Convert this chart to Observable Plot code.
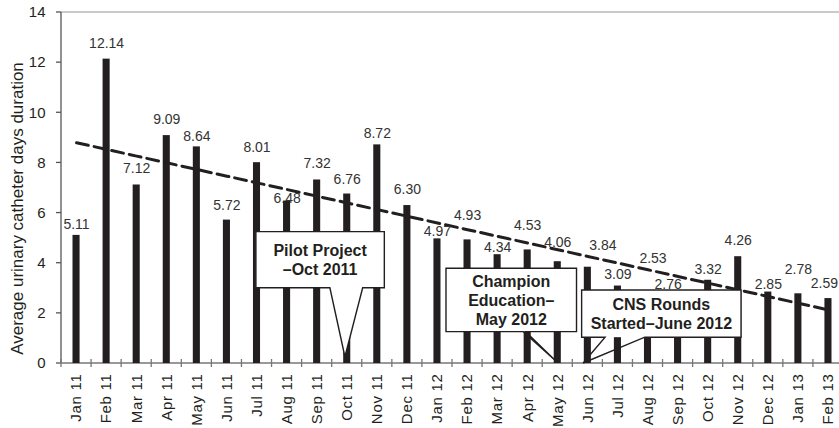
<!DOCTYPE html>
<html>
<head>
<meta charset="utf-8">
<script src="https://cdn.jsdelivr.net/npm/d3@7"></script>
<script src="https://cdn.jsdelivr.net/npm/@observablehq/plot@0.6"></script>
<style>
html, body { margin: 0; padding: 0; background: #fff; overflow: hidden; }
</style>
</head>
<body>
<div id="chart"></div>
<script>
// ---- data ----
const months = ["Jan 11","Feb 11","Mar 11","Apr 11","May 11","Jun 11","Jul 11","Aug 11","Sep 11","Oct 11","Nov 11","Dec 11",
                "Jan 12","Feb 12","Mar 12","Apr 12","May 12","Jun 12","Jul 12","Aug 12","Sep 12","Oct 12","Nov 12","Dec 12",
                "Jan 13","Feb 13"];
const durations = [5.11,12.14,7.12,9.09,8.64,5.72,8.01,6.48,7.32,6.76,8.72,6.30,
                   4.97,4.93,4.34,4.53,4.06,3.84,3.09,2.53,2.76,3.32,4.26,2.85,
                   2.78,2.59];
const yTicks = [0,2,4,6,8,10,12,14];
const yTitle = "Average urinary catheter days duration";
const calloutTexts = [["Pilot Project","\u2013Oct 2011"],["Champion","Education\u2013","May 2012"],["CNS Rounds","Started\u2013June 2012"]];

// ---- layout (label nudges in px, callouts in band-index / value units) ----
const labelDx = [0,0,0,0,0,0,0,0,0,0,0,0, 0,0,0,0,0,15,0,5,-10,0,0,0, 0,-4];
const labelDy = [-11,-15.5,-16,-16.5,-10,-14.5,-15.5,-3,-16,-15,-11,-16,
                 -7,-24,-7.5,-24,-19.5,-21.5,-12,-42,-10,-10.5,-16,-8,
                 -24,-15];
const calloutLayout = [
  {box:[6.48,10.75,5.24,3.0],  base:[8.94,10.03],  tip:[9.44,0.25],  tailFill:"white"},
  {box:[12.80,17.14,3.78,1.25], base:[15.37,15.45], tip:[16.48,0.05], tailFill:"none"},
  {box:[17.31,22.61,2.91,1.03], base:[18.09,19.41], tip:[17.36,0.0],  tailFill:"none"}
];

const ink = "#231f20";
const bars = months.map((m,i)=>({month:m, value:durations[i]}));

// least-squares trend line
const mx = d3.mean(durations, (d,i)=>i);
const my = d3.mean(durations);
let sxy = 0, sxx = 0;
durations.forEach((d,i)=>{ sxy += (i-mx)*(d-my); sxx += (i-mx)*(i-mx); });
const slope = sxy/sxx, intercept = my - slope*mx;
const trend = months.map((m,i)=>({month:m, value: intercept + slope*i}));

function helpers(scales){
  const x = scales.x, y = scales.y;
  const x0 = x(months[0]);
  const step = x(months[1]) - x(months[0]);
  return {x, y, x0, step, fx: f => x0 + f*step};
}

function decor(index, scales, values, dims) {
  const {y, x0, step, fx} = helpers(scales);
  const xEnd = fx(months.length);
  const g = d3.create("svg:g");
  g.append("line").attr("x1", x0).attr("x2", xEnd).attr("y1", y(14)).attr("y2", y(14))
    .attr("stroke", "#b8b8b8").attr("stroke-width", 1.5);
  g.append("line").attr("x1", x0).attr("x2", x0).attr("y1", y(0)).attr("y2", y(14))
    .attr("stroke", "#555").attr("stroke-width", 1.3);
  for (const t of yTicks) {
    g.append("line").attr("x1", x0-5).attr("x2", x0).attr("y1", y(t)).attr("y2", y(t))
      .attr("stroke", "#555").attr("stroke-width", 1.3);
  }
  g.append("line").attr("x1", x0).attr("x2", xEnd).attr("y1", y(0)).attr("y2", y(0))
    .attr("stroke", "#777").attr("stroke-width", 1.5);
  for (let i = 0; i <= months.length; i++) {
    g.append("line").attr("x1", fx(i)).attr("x2", fx(i)).attr("y1", y(0)-4).attr("y2", y(0)+4)
      .attr("stroke", "#777").attr("stroke-width", 1.3);
  }
  const ty = (y(0)+y(14))/2 + 21;
  g.append("text").attr("transform", `translate(${x0-44},${ty}) rotate(-90)`)
    .attr("text-anchor", "middle").attr("dy", "0.35em")
    .attr("font-size", 17).attr("fill", ink).text(yTitle);
  return g.node();
}

function callouts(index, scales, values, dims) {
  const {y, fx} = helpers(scales);
  const g = d3.create("svg:g");
  calloutLayout.forEach((c, k) => {
    const [l, r, t, b] = c.box;
    const L = fx(l), R = fx(r), T = y(t), B = y(b);
    const b1 = fx(c.base[0]), b2 = fx(c.base[1]);
    const tx = fx(c.tip[0]), ty = y(c.tip[1]);
    const path = `M${L},${T}H${R}V${B}H${b2}L${tx},${ty}L${b1},${B}H${L}Z`;
    g.append("rect").attr("x", L).attr("y", T).attr("width", R-L).attr("height", B-T).attr("fill", "white");
    if (c.tailFill !== "none") g.append("path").attr("d", path).attr("fill", c.tailFill);
    g.append("path").attr("d", path).attr("fill", "none").attr("stroke", ink).attr("stroke-width", 1.4)
      .attr("stroke-linejoin", "miter");
    const lines = calloutTexts[k];
    const cx = (L+R)/2, cy = (T+B)/2;
    lines.forEach((s, j) => {
      g.append("text").attr("x", cx).attr("y", cy + (j - (lines.length-1)/2)*19)
        .attr("dy", "0.36em").attr("text-anchor", "middle")
        .attr("font-size", 16).attr("font-weight", "bold").attr("fill", ink).text(s);
    });
  });
  return g.node();
}

const valueLabels = bars.map((d, i) =>
  Plot.text([d], {x: "month", y: "value", text: v => v.value.toFixed(2),
                  dx: labelDx[i], dy: labelDy[i], fontSize: 14, fill: "#333"}));

const chart = Plot.plot({
  width: 839,
  height: 428,
  marginLeft: 61,
  marginTop: 12,
  marginBottom: 65,
  marginRight: 0,
  style: {fontFamily: "'Liberation Sans', Arial, Helvetica, sans-serif", color: ink, background: "white", overflow: "hidden"},
  x: {type: "band", domain: months, range: [61, 843], padding: 0, round: false, label: null},
  y: {domain: [0, 14], range: [363, 12], label: null},
  marks: [
    decor,
    Plot.barY(bars, {x: "month", y: "value", fill: ink, insetLeft: 11.5, insetRight: 11.5}),
    Plot.line(trend, {x: "month", y: "value", stroke: ink, strokeWidth: 3, strokeDasharray: "12,6"}),
    ...valueLabels,
    Plot.axisY(yTicks, {tickSize: 0, tickPadding: 16, fontSize: 15, label: null}),
    Plot.axisX({tickSize: 0, tickPadding: 10, tickRotate: -90, fontSize: 15, label: null}),
    callouts
  ]
});
document.getElementById("chart").appendChild(chart);
d3.select(chart).selectAll('g[aria-label="x-axis tick label"] text').style("letter-spacing", "0.7px");
</script>
</body>
</html>
